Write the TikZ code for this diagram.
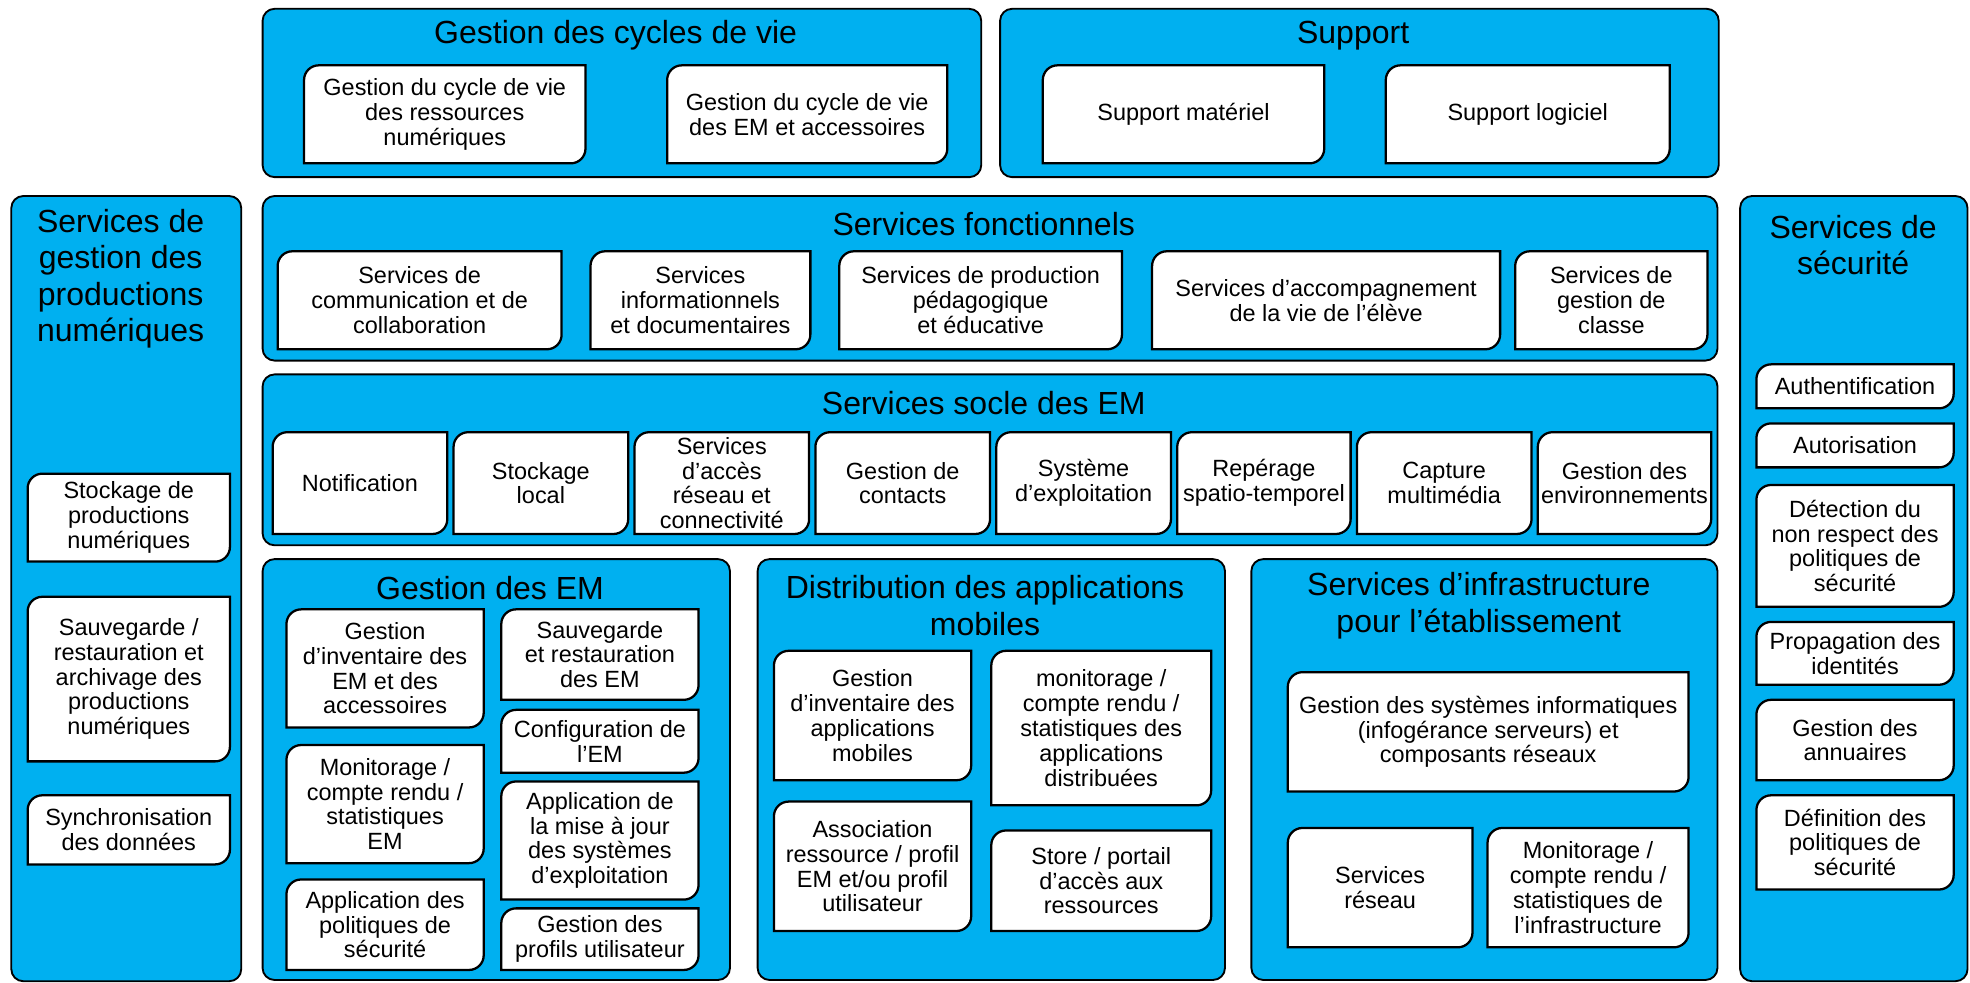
\documentclass[tikz,border=0pt]{standalone}
\usepackage{fontspec}
\setmainfont{Liberation Sans}
\definecolor{skyblue}{RGB}{0,176,240}
\tikzset{
  bluebox/.style={draw=black, line width=1.4pt, fill=skyblue, rounded corners=9pt},
  whitebox/.style={draw=black, line width=1.7pt, fill=white},
  boxtext/.style={align=center, inner sep=0pt, font=\fontsize{17.6}{18.6}\selectfont},
  headtext/.style={align=center, inner sep=0pt, font=\fontsize{24}{27.3}\selectfont},
}
\def\wbox(#1)(#2,#3)(#4,#5)#6{%
  \draw[whitebox] (#2,{(#3+#5)/2}) [rounded corners=11pt] -- (#2,#3) [sharp corners] -- (#4,#3) [rounded corners=11pt] -- (#4,#5) [sharp corners] -- (#2,#5) -- cycle;
  \node[boxtext] (#1) at ({(#2+#4)/2},{(#3+#5)/2}) {#6};}

\begin{document}
\begin{tikzpicture}[x=0.9423pt, y=-0.9423pt]
		%%%%% START %%%%%
		\useasboundingbox[fill=white] (0,0) rectangle (1568,782.4);
		
		% cycles de vie
		\draw[bluebox] (209,7) rectangle (781,141);
		\node[headtext] (cycles) at (490,28) {Gestion des cycles de vie};
		\wbox(cycres)(242,52)(466,130){Gestion du cycle de vie\\des ressources\\numériques}
		\wbox(cycem)(531,52)(754,130){Gestion du cycle de vie\\des EM et accessoires}
		
		% support
		\draw[bluebox] (796,7) rectangle (1368,141);
		\node[headtext] (support) at (1077,28) {Support};
		\wbox(supmat)(830,52)(1054,130){Support matériel}
		\wbox(suplog)(1103,52)(1329,130){Support logiciel}
		
		% productions numeriques
		\draw[bluebox] (9,156) rectangle (192,781);
		\node[headtext] (prodnum) at (96,222) {Services de\\gestion des\\productions\\numériques};
		\wbox(stockprod)(22,377)(183,447){Stockage de\\productions\\numériques}
		\wbox(sauvprod)(22,475)(183,606){Sauvegarde /\\restauration et\\archivage des\\productions\\numériques}
		\wbox(synchro)(22,633)(183,688){Synchronisation\\des données}
		
		% services fonctionnels
		\draw[bluebox] (209,156) rectangle (1367,287);
		\node[headtext] (fonct) at (783,178) {Services fonctionnels};
		\wbox(comm)(221,200)(447,278){Services de\\communication et de\\collaboration}
		\wbox(info)(470,200)(645,278){Services\\informationnels\\et documentaires}
		\wbox(prodped)(668,200)(893,278){Services de production\\pédagogique\\et éducative}
		\wbox(accomp)(917,200)(1194,278){Services d’accompagnement\\de la vie de l’élève}
		\wbox(classe)(1206,200)(1359,278){Services de\\gestion de\\classe}
		
		% services socle
		\draw[bluebox] (209,298) rectangle (1367,434);
		\node[headtext] (socle) at (783,321) {Services socle des EM};
		\wbox(notif)(217,344)(356,425){Notification}
		\wbox(stockloc)(361,344)(500,425){Stockage\\local}
		\wbox(acces)(505,344)(644,425){Services\\d’accès\\réseau et\\connectivité}
		\wbox(contacts)(649,344)(788,425){Gestion de\\contacts}
		\wbox(systeme)(793,344)(932,425){Système\\d’exploitation}
		\wbox(reperage)(937,344)(1075,425){Repérage\\spatio-temporel}
		\wbox(capture)(1080,344)(1219,425){Capture\\multimédia}
		\wbox(environ)(1224,344)(1362,425){Gestion des\\environnements}
		
		% gestion des EM
		\draw[bluebox] (209,445) rectangle (581,780);
		\node[headtext] (gestem) at (390,468) {Gestion des EM};
		\wbox(invem)(228,485)(385,579){Gestion\\d’inventaire des\\EM et des\\accessoires}
		\wbox(monem)(228,593)(385,687){Monitorage /\\compte rendu /\\statistiques\\EM}
		\wbox(polem)(228,700)(385,772){Application des\\politiques de\\sécurité}
		\wbox(sauvem)(399,485)(556,557){Sauvegarde\\et restauration\\des EM}
		\wbox(config)(399,565)(556,615){Configuration de\\l’EM}
		\wbox(majos)(399,622)(556,716){Application de\\la mise à jour\\des systèmes\\d’exploitation}
		\wbox(profils)(399,723)(556,772){Gestion des\\profils utilisateur}
		
		% distribution des applications
		\draw[bluebox] (603,445) rectangle (975,780);
		\node[headtext] (distrib) at (784,482) {Distribution des applications\\mobiles};
		\wbox(invapp)(616,518)(773,621){Gestion\\d’inventaire des\\applications\\mobiles}
		\wbox(assoc)(616,638)(773,741){Association\\ressource / profil\\EM et/ou profil\\utilisateur}
		\wbox(monapp)(789,518)(964,641){monitorage /\\compte rendu /\\statistiques des\\applications\\distribuées}
		\wbox(store)(789,661)(964,741){Store / portail\\d’accès aux\\ressources}
		
		% infrastructure
		\draw[bluebox] (996,445) rectangle (1367,780);
		\node[headtext] (infra) at (1177,482) {Services d’infrastructure\\pour l’établissement};
		\wbox(gestsys)(1025,535)(1344,630){Gestion des systèmes informatiques\\(infogérance serveurs) et\\composants réseaux}
		\wbox(reseau)(1025,659)(1172,754){Services\\réseau}
		\wbox(moninf)(1184,659)(1344,754){Monitorage /\\compte rendu /\\statistiques de\\l’infrastructure}
		
		% securite
		\draw[bluebox] (1385,156) rectangle (1566,781);
		\node[headtext] (secu) at (1475,195) {Services de\\sécurité};
		\wbox(auth)(1398,290)(1555,325){Authentification}
		\wbox(autor)(1398,337)(1555,372){Autorisation}
		\wbox(detect)(1398,386)(1555,483){Détection du\\non respect des\\politiques de\\sécurité}
		\wbox(propag)(1398,495)(1555,545){Propagation des\\identités}
		\wbox(annu)(1398,557)(1555,621){Gestion des\\annuaires}
		\wbox(defpol)(1398,633)(1555,708){Définition des\\politiques de\\sécurité}
		
		%%%%% END %%%%%
\end{tikzpicture}
\end{document}
